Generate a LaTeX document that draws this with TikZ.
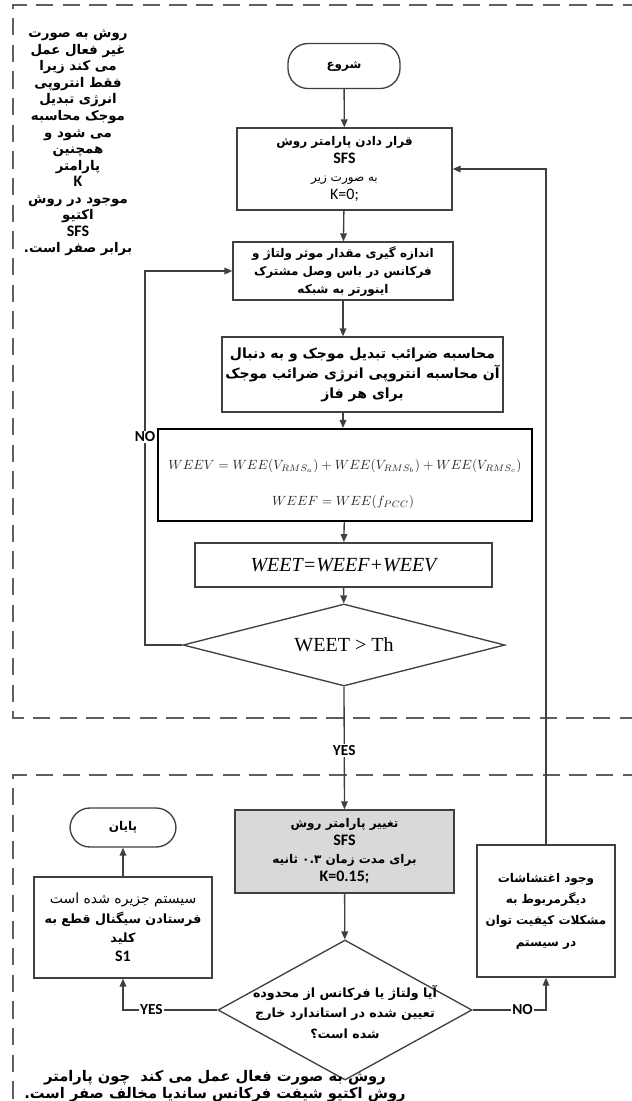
\documentclass[tikz,border=0pt]{standalone}
\usepackage{fontspec}
\usetikzlibrary{shapes.geometric,arrows.meta}
\TeXXeTstate=1
\newfontfamily\farsi[Script=Arabic]{DejaVu Sans}
\newfontfamily\latinf{Carlito}
\newfontfamily\eqf{Liberation Serif}
\newcommand{\fa}[1]{{\farsi\beginR #1\endR}}
\newcommand{\la}[1]{{\latinf\fontsize{12}{13}\selectfont #1}}

\definecolor{lineclr}{RGB}{64,64,64}
\definecolor{boxgray}{RGB}{217,217,217}
\definecolor{zoneclr}{RGB}{95,95,95}

\tikzset{
  procbox/.style={draw=lineclr, line width=1pt, fill=white, align=center, inner sep=1pt, font=\bfseries\fontsize{9}{13.5}\selectfont},
  termbox/.style={draw=lineclr, line width=1pt, fill=white, rounded corners=15pt, align=center, font=\bfseries\fontsize{9}{11}\selectfont},
  decbox/.style={draw=lineclr, line width=1pt, fill=white, diamond, inner sep=0pt},
  flow/.style={draw=lineclr, line width=1pt, -{Triangle[length=6pt,width=5pt]}},
  zone/.style={draw=zoneclr, line width=1.5pt, dash pattern=on 13pt off 7pt},
  edgetag/.style={fill=white, inner sep=1pt, font=\latinf\bfseries\fontsize{11.5}{13}\selectfont},
  notetext/.style={align=center, inner sep=0pt, font=\bfseries\fontsize{10}{12.4}\selectfont},
}

\begin{document}
\begin{tikzpicture}[x=0.75pt,y=0.75pt,yscale=-1,xscale=1]
\useasboundingbox (0,0) rectangle (632,1101);
%Dashed zones
\draw [zone] (640,5) -- (13,5) -- (13,718) -- (640,718) ;
\draw [zone] (640,775) -- (13,775) -- (13,1110) ;
% Text Node
\node [notetext] (passive) at (78,143) {\fa{روش به صورت}\\ \fa{غیر فعال عمل}\\ \fa{می کند زیرا}\\ \fa{فقط انتروپی}\\ \fa{انرژی تبدیل}\\ \fa{موجک محاسبه}\\ \fa{می شود و}\\ \fa{همچنین}\\ \fa{پارامتر}\\ \la{K}\\ \fa{موجود در روش}\\ \fa{اکتیو}\\ \la{SFS}\\ \fa{برابر صفر است.}};
%Shape: Terminal
\node [termbox, minimum width=84pt, minimum height=33.75pt] (start) at (344,66) {\fa{شروع}};
%Shape: Rectangle
\node [procbox, minimum width=161.25pt, minimum height=61.5pt] (setk) at (344.5,169) {\fa{قرار دادن پارامتر روش}\\ \la{SFS}\\ {\mdseries\fa{به صورت زیر}}\\ {\mdseries\la{K=0;}}};
%Shape: Rectangle
\node [procbox, minimum width=165pt, minimum height=43.5pt] (measure) at (343,271) {\fa{اندازه گیری مقدار موثر ولتاژ و}\\ \fa{فرکانس در باس وصل مشترک}\\ \fa{اینورتر به شبکه}};
%Shape: Rectangle
\node [procbox, minimum width=210.75pt, minimum height=56.25pt, font=\bfseries\fontsize{10.5}{15}\selectfont] (coeff) at (362.5,374.5) {\fa{محاسبه ضرائب تبدیل موجک و به دنبال}\\ \fa{آن محاسبه انتروپی انرژی ضرائب موجک}\\ \fa{برای هر فاز}};
%Shape: Rectangle
\node [draw=black, line width=1.6pt, minimum width=280.5pt, minimum height=69pt] (wee) at (345,475) {};
% Text Node
\node [inner sep=0pt, text=black!85, font=\fontsize{10.4}{13}\selectfont] (weev) at (345,466) {$WEEV = WEE(V_{RMS_a}) + WEE(V_{RMS_b}) + WEE(V_{RMS_c})$};
% Text Node
\node [inner sep=0pt, text=black!85, font=\fontsize{10.4}{13}\selectfont] (weef) at (343,502) {$WEEF = WEE(f_{PCC})$};
%Shape: Rectangle
\node [draw=lineclr, line width=1.3pt, minimum width=222.75pt, minimum height=33pt, font=\eqf\itshape\fontsize{15}{18}\selectfont] (weet) at (343.5,565) {WEET=WEEF+WEEV};
%Shape: Diamond
\node [decbox, aspect=3.9, minimum width=241.5pt, minimum height=61.5pt, font=\eqf\fontsize{15}{18}\selectfont] (cmp) at (344,645) {WEET > Th};
%Shape: Rectangle
\node [procbox, fill=boxgray, minimum width=164.25pt, minimum height=62.25pt] (change) at (344.5,851.5) {\fa{تغییر پارامتر روش}\\ \la{SFS}\\ \fa{برای مدت زمان \beginL۰.۳\endL{} ثانیه}\\ \la{K=0.15;}};
%Shape: Diamond
\node [decbox, aspect=1.8, minimum width=190.5pt, minimum height=105pt] (check) at (345,1010) {};
% Text Node
\node [notetext, font=\bfseries\fontsize{9.5}{15.4}\selectfont] (checktxt) at (345,1012) {\fa{آیا ولتاژ یا فرکانس از محدوده}\\ \fa{تعیین شده در استاندارد خارج}\\ \fa{شده است؟}};
%Shape: Rectangle
\node [procbox, minimum width=103.5pt, minimum height=99pt, font=\bfseries\fontsize{9}{16}\selectfont] (other) at (546,911) {\fa{وجود اغتشاشات}\\ \fa{دیگرمربوط به}\\ \fa{مشکلات کیفیت توان}\\ \fa{در سیستم}};
%Shape: Rectangle
\node [procbox, minimum width=133.5pt, minimum height=75.75pt, font=\bfseries\fontsize{9.5}{14.5}\selectfont] (island) at (123,927.5) {{\mdseries\fontsize{10.5}{14.5}\selectfont\fa{سیستم جزیره شده است}}\\ \fa{فرستادن سیگنال قطع به}\\ \fa{کلید}\\ \la{S1}};
%Shape: Terminal
\node [termbox, minimum width=79.5pt, minimum height=29.25pt] (stop) at (123,827.5) {\fa{پایان}};
% Text Node
\node [notetext, font=\bfseries\fontsize{11}{13}\selectfont] (active) at (215,1086) {\fa{روش به صورت فعال عمل می کند \ چون پارامتر}\\ \fa{روش اکتیو شیفت فرکانس ساندیا مخالف صفر است.}};
%Connectors
\coordinate (loop) at (145,645);
\draw [flow] (start) -- (setk) ;
\draw [flow] (setk) -- (measure) ;
\draw [flow] (measure.south) -- (measure.south |- coeff.north) ;
\draw [flow] (coeff.south -| measure.south) -- (wee.north -| measure.south) ;
\draw [flow] (wee) -- (weet) ;
\draw [flow] (weet) -- (cmp) ;
\draw [flow] (cmp.west) -- (loop) |- (measure.west) ;
\node [edgetag] (notag) at (145,437) {NO};
\draw [flow] (cmp.south) -- (change.north) node [edgetag, pos=0.52] (yestag) {YES} ;
\draw [flow] (change) -- (check) ;
\draw [flow] (check.east) -| (other.south) node [edgetag, pos=0.34] (notag2) {NO} ;
\draw [flow] (check.west) -| (island.south) node [edgetag, pos=0.35] (yestag2) {YES} ;
\draw [flow] (island) -- (stop) ;
\draw [flow] (other.north) |- (setk.east) ;
\end{tikzpicture}
\end{document}
